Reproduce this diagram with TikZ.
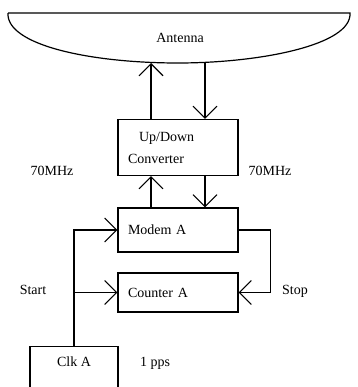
\documentclass[tikz,border=0pt]{standalone}
\usepackage{fontspec}
\setmainfont{Liberation Serif}
\usetikzlibrary{arrows.meta}

\begin{document}
\begin{tikzpicture}[x=1pt, y=-1pt,
  font=\fontsize{14}{22}\selectfont,
  blk/.style={draw, line width=1.1pt, inner xsep=10pt, text width=100pt, align=left},
  arr/.style={line width=1.1pt, -{Straight Barb[length=12pt, width=24pt, line width=1.1pt]}}]
\useasboundingbox (0,0) rectangle (357,387);
\clip (0,0) rectangle (357,387);
% antenna dish
\draw[line width=1.2pt] (8,13) -- (350,13) .. controls (352,45) and (260,63) .. (178,63)
  .. controls (90,63) and (6,45) .. (8,13);
\node (ant) at (180,38) {Antenna};
\coordinate (aUp) at (151,63);
\coordinate (aDn) at (205,63);
% blocks
\node[blk, minimum height=56pt] (conv) at (178,147.5) {\hspace*{11pt}Up/Down\\Converter};
\node[blk, minimum height=44pt] (modem) at (178,230) {Modem A};
\node[blk, minimum height=39pt] (cnt) at (178,292.5) {Counter A};
\node[draw, line width=1.1pt, anchor=north, minimum width=88pt, inner sep=4pt,
  text height=16pt, text depth=30pt] (clk) at (74,346) {Clk A};
% labels
\node (fl) at (52,171) {70MHz};
\node (fr) at (270,171) {70MHz};
\node (start) at (33,290) {Start};
\node (stop) at (295,291) {Stop};
\node (pps) at (155,363) {1 pps};
% links
\draw[arr] (conv.north -| aUp) -- (aUp);
\draw[arr] (aDn) -- (conv.north -| aDn);
\draw[arr] (modem.north -| aUp) -- (conv.south -| aUp);
\draw[arr] (conv.south -| aDn) -- (modem.north -| aDn);
\draw[arr] (clk.north) |- (modem.west);
\draw[arr] (clk.north |- cnt.west) -- (cnt.west);
\draw[arr] (modem.east) -- ++(32,0) |- (cnt.east);
\end{tikzpicture}
\end{document}
